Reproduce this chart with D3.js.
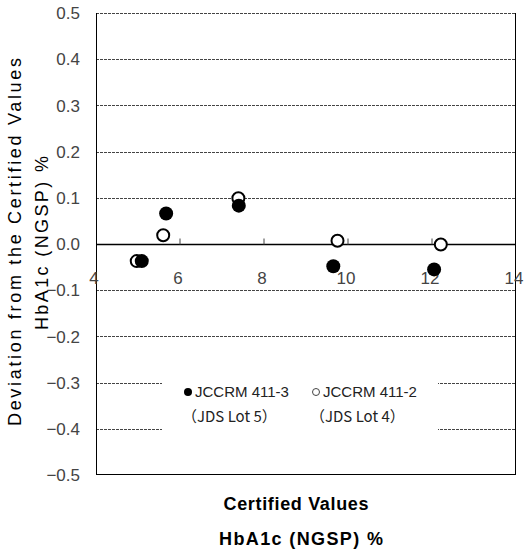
<!DOCTYPE html>
<html>
<head>
<meta charset="utf-8">
<script src="https://cdn.jsdelivr.net/npm/d3@7"></script>
<style>
  body { margin: 0; background: #fff; }
  text { font-family: "Liberation Sans", Arial, sans-serif; }
</style>
</head>
<body>
<svg id="chart" width="526" height="553"></svg>
<script>
// JCCRM 411-3 (JDS Lot 5), filled markers
const lot5X = [5.09, 5.67, 7.40, 9.65, 12.05];
const lot5Y = [-0.037, 0.066, 0.083, -0.048, -0.055];
// JCCRM 411-2 (JDS Lot 4), open markers
const lot4X = [4.97, 5.60, 7.39, 9.75, 12.21];
const lot4Y = [-0.037, 0.019, 0.099, 0.007, -0.001];

const xTicks = [4, 6, 8, 10, 12, 14];
const yTicks = [0.5, 0.4, 0.3, 0.2, 0.1, 0.0, -0.1, -0.2, -0.3, -0.4, -0.5];

const svg = d3.select("#chart");
const margin = { top: 13, right: 10, bottom: 78, left: 96 };
const width = 526 - margin.left - margin.right;
const height = 553 - margin.top - margin.bottom;

const x = d3.scaleLinear().domain([4, 14]).range([0, width]);
const y = d3.scaleLinear().domain([-0.5, 0.5]).range([height, 0]);

const g = svg.append("g").attr("transform", `translate(${margin.left},${margin.top})`);

// dashed gridlines
g.append("g")
  .selectAll("line")
  .data(yTicks.filter(d => d !== 0 && d !== -0.5))
  .join("line")
  .attr("x1", 0)
  .attr("x2", width)
  .attr("y1", d => Math.round(y(d)) + 0.5)
  .attr("y2", d => Math.round(y(d)) + 0.5)
  .attr("stroke", "#444")
  .attr("stroke-width", 1)
  .attr("stroke-dasharray", "3,1");

// frame: left, right, bottom
g.append("line").attr("x1", 0.5).attr("x2", 0.5).attr("y1", 0).attr("y2", height)
  .attr("stroke", "#000");
g.append("line").attr("x1", width - 0.5).attr("x2", width - 0.5).attr("y1", 0).attr("y2", height)
  .attr("stroke", "#000");
g.append("line").attr("x1", 0).attr("x2", width).attr("y1", height - 0.5).attr("y2", height - 0.5)
  .attr("stroke", "#000");

// y tick labels
const fmt = d => (d < 0 ? "\u2212" : "") + Math.abs(d).toFixed(1);
g.append("g")
  .selectAll("text")
  .data(yTicks)
  .join("text")
  .attr("x", -16)
  .attr("y", d => y(d))
  .attr("dy", "0.36em")
  .attr("text-anchor", "end")
  .attr("font-size", 17)
  .attr("fill", "#444")
  .text(fmt);

// x axis along zero
const y0 = Math.round(y(0)) + 0.5;
g.append("line").attr("x1", 0).attr("x2", width).attr("y1", y0).attr("y2", y0)
  .attr("stroke", "#000").attr("stroke-width", 1.3);
g.append("g")
  .selectAll("line")
  .data(xTicks.slice(1, -1))
  .join("line")
  .attr("x1", d => x(d))
  .attr("x2", d => x(d))
  .attr("y1", y0)
  .attr("y2", y0 - 6)
  .attr("stroke", "#444");
g.append("g")
  .selectAll("text")
  .data(xTicks)
  .join("text")
  .attr("x", d => x(d) - 2)
  .attr("y", y0 + 39)
  .attr("text-anchor", "middle")
  .attr("font-size", 17)
  .attr("fill", "#444")
  .text(d => d);

// legend box
const lg = g.append("g");
lg.append("rect")
  .attr("x", 162 - margin.left)
  .attr("y", 372 - margin.top)
  .attr("width", 276)
  .attr("height", 64)
  .attr("fill", "#fff");
const legendItems = [
  { lx: 188, filled: true, l1: "JCCRM 411-3", l2: "\uFF08JDS Lot 5\uFF09" },
  { lx: 316, filled: false, l1: "JCCRM 411-2", l2: "\uFF08JDS Lot 4\uFF09" }
];
legendItems.forEach(it => {
  const cx = it.lx - margin.left;
  lg.append("circle")
    .attr("cx", cx)
    .attr("cy", 392 - margin.top)
    .attr("r", it.filled ? 4 : 3.5)
    .attr("fill", it.filled ? "#000" : "#fff")
    .attr("stroke", it.filled ? "none" : "#444")
    .attr("stroke-width", 1);
  lg.append("text")
    .attr("x", cx + 7)
    .attr("y", 397 - margin.top)
    .attr("font-size", 15)
    .attr("fill", "#222")
    .text(it.l1);
  lg.append("text")
    .attr("x", cx - 6)
    .attr("y", 422 - margin.top)
    .attr("font-size", 15)
    .attr("fill", "#222")
    .style("font-family", "'Noto Sans CJK JP', sans-serif")
    .text(it.l2);
});

// markers
const lot4 = lot4X.map((v, i) => ({ x: v, y: lot4Y[i] }));
const lot5 = lot5X.map((v, i) => ({ x: v, y: lot5Y[i] }));
g.append("g")
  .selectAll("circle")
  .data(lot4)
  .join("circle")
  .attr("cx", d => x(d.x))
  .attr("cy", d => y(d.y))
  .attr("r", 6)
  .attr("fill", "#fff")
  .attr("stroke", "#000")
  .attr("stroke-width", 2);
g.append("g")
  .selectAll("circle")
  .data(lot5)
  .join("circle")
  .attr("cx", d => x(d.x))
  .attr("cy", d => y(d.y))
  .attr("r", 7)
  .attr("fill", "#000");

// axis titles
svg.append("g")
  .attr("transform", "translate(15,242) rotate(-90)")
  .append("text")
  .attr("text-anchor", "middle")
  .attr("dy", "0.35em")
  .attr("font-size", 18)
  .attr("textLength", 368)
  .attr("fill", "#000")
  .text("Deviation from the Certified Values");
svg.append("g")
  .attr("transform", "translate(42,243) rotate(-90)")
  .append("text")
  .attr("text-anchor", "middle")
  .attr("dy", "0.35em")
  .attr("font-size", 18)
  .attr("textLength", 174)
  .attr("fill", "#000")
  .text("HbA1c (NGSP) %");

svg.append("text")
  .attr("x", 296)
  .attr("y", 510)
  .attr("text-anchor", "middle")
  .attr("font-size", 18)
  .attr("font-weight", "bold")
  .attr("textLength", 145)
  .attr("fill", "#000")
  .text("Certified Values");
svg.append("text")
  .attr("x", 301)
  .attr("y", 545)
  .attr("text-anchor", "middle")
  .attr("font-size", 18)
  .attr("font-weight", "bold")
  .attr("textLength", 164)
  .attr("fill", "#000")
  .text("HbA1c (NGSP) %");
</script>
</body>
</html>
